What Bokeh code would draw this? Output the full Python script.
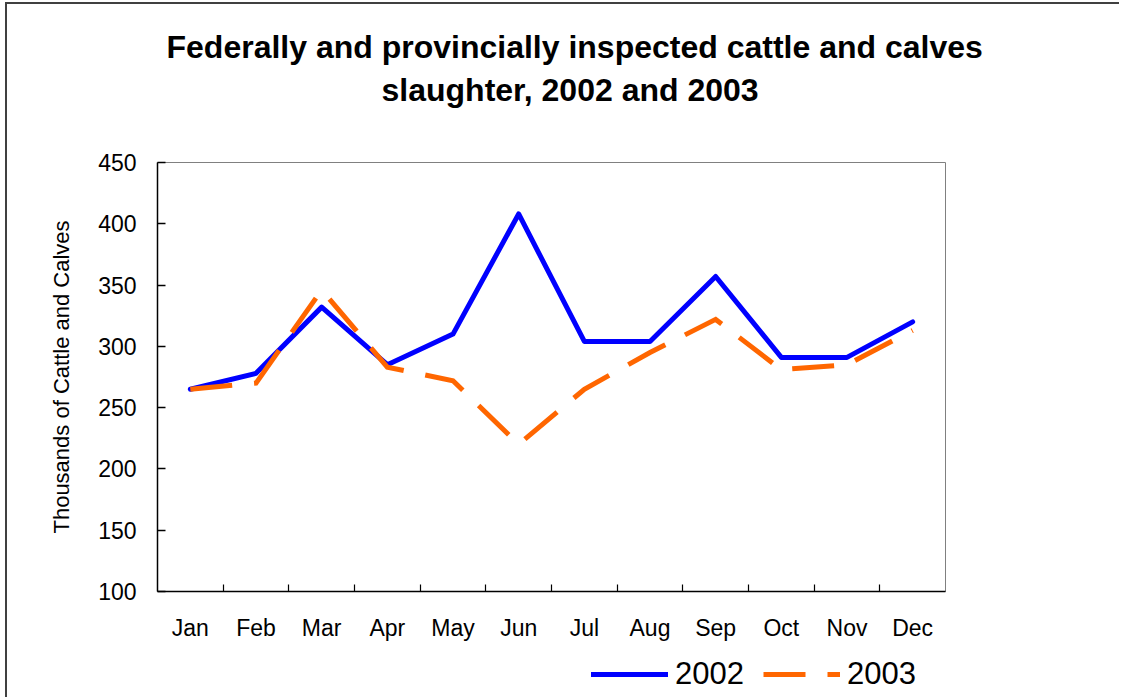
from bokeh.plotting import figure
from bokeh.layouts import column
from bokeh.models import (ColumnDataSource, Range1d, LinearAxis,
                          FixedTicker, Legend, LegendItem, Title)
from bokeh.embed import file_html
from bokeh.resources import INLINE

months = ["Jan", "Feb", "Mar", "Apr", "May", "Jun", "Jul", "Aug", "Sep", "Oct", "Nov", "Dec"]
y2002 = [265, 278, 332, 285, 310, 408, 304, 304, 357, 291, 291, 320]
y2003 = [265, 270, 346, 283, 272, 220, 265, 295, 322, 281, 285, 313]
y_ticks = [100, 150, 200, 250, 300, 350, 400, 450]
title_line1 = "Federally and provincially inspected cattle and calves"
title_line2 = "slaughter, 2002 and 2003"
y_label = "Thousands of Cattle and Calves"

FONT = "Liberation Sans"

# category slots: month i occupies [i, i+1], point at its centre
centers = [i + 0.5 for i in range(len(months))]
boundaries = list(range(1, len(months)))

src = ColumnDataSource(dict(x=centers, m=months, a=y2002, b=y2003))

p = figure(frame_width=788, frame_height=429, output_backend="svg", toolbar_location=None,
           x_range=Range1d(0, len(months)), y_range=Range1d(100, 450),
           x_axis_location=None, y_axis_location=None,
           min_border_left=150, min_border_right=174, min_border_top=158, min_border_bottom=60,
           title=None)
p.background_fill_color = "white"
p.border_fill_color = "white"
p.outline_line_color = "#808080"
p.outline_line_width = 1
p.grid.visible = False

# titles: spacer nearest the frame, then line 2, then line 1
spacer = Title(text=" ", text_font_size="1px", standoff=49)
t2 = Title(text=title_line2, align="left", offset=224, text_font=FONT, text_font_size="32px",
           text_font_style="bold", text_color="black", standoff=6)
t1 = Title(text=title_line1, align="left", offset=9, text_font=FONT, text_font_size="32px",
           text_font_style="bold", text_color="black", standoff=4)
p.add_layout(spacer, "above")
p.add_layout(t2, "above")
p.add_layout(t1, "above")

# y axis
yax = LinearAxis(ticker=FixedTicker(ticks=y_ticks), axis_label=y_label,
                 axis_label_text_font=FONT, axis_label_text_font_size="22px",
                 axis_label_text_font_style="normal", axis_label_text_color="black",
                 axis_label_standoff=21,
                 major_label_text_font=FONT, major_label_text_font_size="23px",
                 major_label_text_color="black", major_label_standoff=21,
                 major_tick_in=8, major_tick_out=0, minor_tick_line_color=None,
                 axis_line_color="black", axis_line_width=1.5,
                 major_tick_line_color="black", major_tick_line_width=1.5)
p.add_layout(yax, "left")

# x axis: boundary ticks (no labels) + month labels (no ticks)
tick_axis = LinearAxis(ticker=FixedTicker(ticks=boundaries),
                       major_label_overrides={t: "" for t in boundaries},
                       major_label_text_font_size="0px", major_label_standoff=0,
                       major_tick_in=7, major_tick_out=0, minor_tick_line_color=None,
                       axis_line_color="black", axis_line_width=1.5,
                       major_tick_line_color="black", major_tick_line_width=1.2)
p.add_layout(tick_axis, "below")
lab_axis = LinearAxis(ticker=FixedTicker(ticks=centers),
                      major_label_overrides={c: m for c, m in zip(centers, months)},
                      axis_line_color=None, major_tick_line_color=None,
                      minor_tick_line_color=None,
                      major_label_text_font=FONT, major_label_text_font_size="23px",
                      major_label_text_color="black", major_label_standoff=17)
p.add_layout(lab_axis, "below")

line_2002 = dict(line_color="#0000FF", line_width=5, line_join="round", line_cap="round")
line_2003 = dict(line_color="#FF6600", line_width=5, line_dash="42 22", line_join="miter")

p.line("x", "a", source=src, **line_2002)
p.line("x", "b", source=src, **line_2003)

# legend strip below the chart (same series, styled identically; lines fall outside its frame)
lg = figure(width=1112, height=46, output_backend="svg", toolbar_location=None,
            x_range=Range1d(0, 1), y_range=Range1d(0, 1),
            x_axis_location=None, y_axis_location=None, min_border=0, title=None)
lg.outline_line_color = None
lg.grid.visible = False
lg.background_fill_color = "white"
lg.border_fill_color = "white"
l1 = lg.line("x", "a", source=src, **line_2002)
l2 = lg.line("x", "b", source=src, **line_2003)
legend = Legend(items=[LegendItem(label="2002", renderers=[l1]),
                       LegendItem(label="2003", renderers=[l2])],
                orientation="horizontal", location=(434, 5),
                glyph_width=77, glyph_height=30, label_height=30,
                label_standoff=7, spacing=19, padding=0, margin=0,
                label_text_font=FONT, label_text_font_size="31px",
                label_text_color="black",
                background_fill_alpha=0, border_line_color=None)
lg.add_layout(legend, "center")

layout = column(p, lg, spacing=0)
layout.stylesheets = [":host { margin-left: 5px; margin-top: 2px; "
                      "border-left: 2px solid #404040; border-top: 2px solid #404040; }"]

open("out.html", "w").write(file_html(layout, INLINE))
